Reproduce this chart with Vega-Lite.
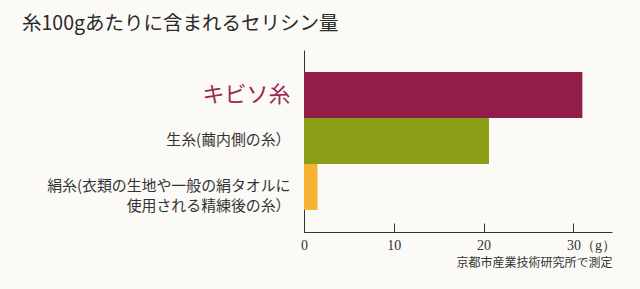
{
  "$schema": "https://vega.github.io/schema/vega-lite/v6.json",
  "autosize": {"type": "none"},
  "width": 308,
  "height": 182,
  "padding": {"left": 304, "top": 50, "right": 28, "bottom": 57},
  "background": "#fbfaf6",
  "title": {
    "text": "糸100gあたりに含まれるセリシン量",
    "anchor": "start",
    "frame": "group",
    "dx": -282,
    "offset": 16,
    "font": "Noto Sans CJK JP",
    "fontSize": 19.5,
    "fontWeight": "normal",
    "color": "#2a2a2a"
  },
  "data": {
    "values": [
      {"item": "キビソ糸", "value": 31.0},
      {"item": "生糸(繭内側の糸）", "value": 20.6},
      {"item": "絹糸(衣類の生地や一般の絹タオルに\n使用される精練後の糸）", "value": 1.5}
    ]
  },
  "mark": {"type": "bar"},
  "encoding": {
    "y": {
      "field": "item",
      "type": "nominal",
      "sort": null,
      "scale": {"paddingInner": 0, "paddingOuter": 0.48},
      "axis": {
        "title": null,
        "ticks": false,
        "domainColor": "#333333",
        "domainWidth": 1,
        "labelPadding": 14,
        "labelExpr": "split(datum.value, '\\n')",
        "labelFont": "Noto Sans CJK JP",
        "labelFontSize": {"condition": {"test": "datum.value == 'キビソ糸'", "value": 22}, "value": 14.9},
        "labelColor": {"condition": {"test": "datum.value == 'キビソ糸'", "value": "#9a2a52"}, "value": "#333333"},
        "labelLineHeight": 20,
        "labelLimit": 400
      }
    },
    "x": {
      "field": "value",
      "type": "quantitative",
      "scale": {"domain": [0, 34.3], "nice": false, "zero": true},
      "axis": {
        "values": [0, 10, 20, 30],
        "grid": false,
        "tickSize": -9,
        "tickColor": "#333333",
        "domainColor": "#333333",
        "labelFont": "Liberation Serif",
        "labelFontSize": 14,
        "labelColor": "#333333",
        "labelPadding": 15,
        "labelExpr": "datum.value == 30 ? '30（g）' : datum.label",
        "labelAlign": {"condition": {"test": "datum.value == 30", "value": "left"}, "value": "center"},
        "labelOffset": {"condition": {"test": "datum.value == 30", "value": -7}, "value": 0},
        "title": "京都市産業技術研究所で測定",
        "titleAnchor": "end",
        "titleFont": "Noto Sans CJK JP",
        "titleFontSize": 12,
        "titleFontWeight": "normal",
        "titleColor": "#333333",
        "titlePadding": 5
      }
    },
    "color": {
      "field": "item",
      "type": "nominal",
      "sort": null,
      "legend": null,
      "scale": {"range": ["#921d48", "#8c9e17", "#f7b234"]}
    }
  },
  "config": {"view": {"stroke": null}}
}
